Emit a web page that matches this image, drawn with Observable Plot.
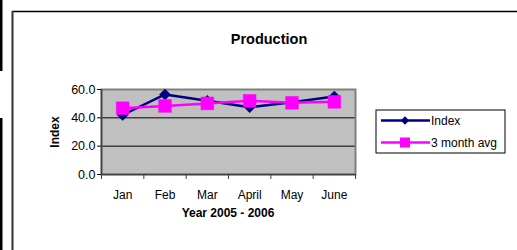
<!DOCTYPE html>
<html>
<head>
<meta charset="utf-8">
<script src="https://cdn.jsdelivr.net/npm/d3@7"></script>
<script src="https://cdn.jsdelivr.net/npm/@observablehq/plot@0.6"></script>
<style>
  html, body { margin: 0; padding: 0; background: #fff; }
  svg { display: block; }
</style>
</head>
<body>
<div id="chart"></div>
<script>
const months = ["Jan", "Feb", "Mar", "April", "May", "June"];
const indexValues = [42.0, 56.5, 52.0, 47.5, 51.0, 55.0];
const avgValues = [46.8, 48.4, 50.2, 52.0, 50.6, 51.3];
const yTicks = [0, 20, 40, 60];
const seriesNames = ["Index", "3 month avg"];
const titleText = "Production";
const xLabel = "Year 2005 - 2006";
const yLabel = "Index";

const navy = "#000080";
const pink = "#FF00FF";
const font = "'Liberation Sans', Arial, sans-serif";

const indexData = months.map((m, i) => ({i, v: indexValues[i]}));
const avgData = months.map((m, i) => ({i, v: avgValues[i]}));
const bounds = d3.range(months.length + 1).map(k => k - 0.5);

const W = 517, H = 250;
const plot = Plot.plot({
  width: W,
  height: H,
  marginLeft: 101,
  marginRight: 162,
  marginTop: 89,
  marginBottom: 76,
  style: {fontFamily: font, fontSize: "12px", color: "#000", background: "transparent", overflow: "visible"},
  x: {domain: [-0.5, months.length - 0.5]},
  y: {domain: [0, 60]},
  marks: [
    Plot.frame({fill: "#C0C0C0", stroke: "none"}),
    Plot.gridY([20, 40], {stroke: "#000", strokeOpacity: 1, strokeWidth: 1}),
    Plot.frame({stroke: "#808080", strokeWidth: 2}),
    Plot.axisY(yTicks, {tickSize: 4, tickPadding: 2, tickFormat: d => d.toFixed(1), stroke: "#000", label: null, fontSize: 12.5}),
    Plot.ruleX([-0.5], {stroke: "#404040", strokeWidth: 1.5}),
    Plot.ruleY([0], {stroke: "#404040", strokeWidth: 1.5}),
    Plot.axisX(bounds, {tickSize: 5, tickFormat: () => "", stroke: "#404040", label: null}),
    Plot.axisX(d3.range(months.length), {tickSize: 0, tickPadding: 16, tickFormat: i => months[i], label: null, fontSize: 12}),
    Plot.line(indexData, {x: "i", y: "v", stroke: navy, strokeWidth: 2.5}),
    Plot.dot(indexData, {x: "i", y: "v", symbol: "diamond2", r: 5, fill: navy, stroke: navy, strokeWidth: 0.5}),
    Plot.line(avgData, {x: "i", y: "v", stroke: pink, strokeWidth: 2.5}),
    Plot.dot(avgData, {x: "i", y: "v", symbol: "square", r: 7.2, fill: pink, stroke: pink, strokeWidth: 0.5})
  ]
});

document.getElementById("chart").appendChild(plot);
const svg = d3.select(plot);

// Outer frame decoration
svg.insert("rect", ":first-child").attr("x", 0).attr("y", 0).attr("width", W).attr("height", H).attr("fill", "#fff");
svg.append("rect").attr("x", 0).attr("y", 0).attr("width", 2.5).attr("height", 71).attr("fill", "#000");
svg.append("rect").attr("x", 0).attr("y", 118).attr("width", 2.5).attr("height", H - 118).attr("fill", "#000");
svg.append("line").attr("x1", 12).attr("x2", W).attr("y1", 11.5).attr("y2", 11.5).attr("stroke", "#000").attr("stroke-width", 1.5);
svg.append("line").attr("x1", 12.5).attr("x2", 12.5).attr("y1", 11).attr("y2", H).attr("stroke", "#333").attr("stroke-width", 2);

// Title and axis labels
svg.append("text").attr("x", 269).attr("y", 44).attr("text-anchor", "middle")
  .attr("font-family", font).attr("font-size", 14.5).attr("font-weight", "bold").text(titleText);
svg.append("text").attr("x", 228).attr("y", 217).attr("text-anchor", "middle")
  .attr("font-family", font).attr("font-size", 12).attr("font-weight", "bold").text(xLabel);
svg.append("text").attr("transform", "translate(59,132) rotate(-90)").attr("text-anchor", "middle")
  .attr("font-family", font).attr("font-size", 12).attr("font-weight", "bold").text(yLabel);

// Legend
const lg = svg.append("g");
lg.append("rect").attr("x", 376).attr("y", 110).attr("width", 129).attr("height", 43)
  .attr("fill", "#fff").attr("stroke", "#000").attr("stroke-width", 1);
const items = [
  {name: seriesNames[0], color: navy, y: 120.5, sym: d3.symbolDiamond2, size: 45},
  {name: seriesNames[1], color: pink, y: 142.5, sym: d3.symbolSquare, size: 100}
];
items.forEach(it => {
  lg.append("line").attr("x1", 381).attr("x2", 430).attr("y1", it.y).attr("y2", it.y)
    .attr("stroke", it.color).attr("stroke-width", 2.5);
  lg.append("path").attr("d", d3.symbol(it.sym, it.size)()).attr("transform", `translate(405,${it.y})`)
    .attr("fill", it.color);
  lg.append("text").attr("x", 431).attr("y", it.y + 4).attr("text-anchor", "start")
    .attr("font-family", font).attr("font-size", 12).text(it.name);
});
</script>
</body>
</html>
